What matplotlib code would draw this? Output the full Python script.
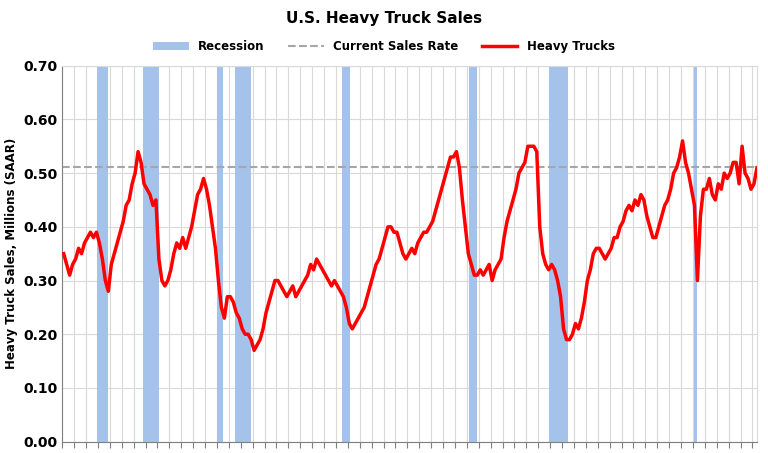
import matplotlib
matplotlib.use("Agg")
import matplotlib.pyplot as plt
import numpy as np

start_year = 1967
values = [
0.35,0.33,0.31,0.33, 0.34,0.36,0.35,0.37, 0.38,0.39,0.38,0.39, 0.37,0.34,0.30,0.28,
0.33,0.35,0.37,0.39, 0.41,0.44,0.45,0.48, 0.50,0.54,0.52,0.48, 0.47,0.46,0.44,0.45,
0.34,0.30,0.29,0.30, 0.32,0.35,0.37,0.36, 0.38,0.36,0.38,0.40, 0.43,0.46,0.47,0.49,
0.47,0.44,0.40,0.36, 0.30,0.25,0.23,0.27, 0.27,0.26,0.24,0.23, 0.21,0.20,0.20,0.19,
0.17,0.18,0.19,0.21, 0.24,0.26,0.28,0.30, 0.30,0.29,0.28,0.27, 0.28,0.29,0.27,0.28,
0.29,0.30,0.31,0.33, 0.32,0.34,0.33,0.32, 0.31,0.30,0.29,0.30, 0.29,0.28,0.27,0.25,
0.22,0.21,0.22,0.23, 0.24,0.25,0.27,0.29, 0.31,0.33,0.34,0.36, 0.38,0.40,0.40,0.39,
0.39,0.37,0.35,0.34, 0.35,0.36,0.35,0.37, 0.38,0.39,0.39,0.40, 0.41,0.43,0.45,0.47,
0.49,0.51,0.53,0.53, 0.54,0.51,0.45,0.40, 0.35,0.33,0.31,0.31, 0.32,0.31,0.32,0.33,
0.30,0.32,0.33,0.34, 0.38,0.41,0.43,0.45, 0.47,0.50,0.51,0.52, 0.55,0.55,0.55,0.54,
0.40,0.35,0.33,0.32, 0.33,0.32,0.30,0.27, 0.21,0.19,0.19,0.20, 0.22,0.21,0.23,0.26,
0.30,0.32,0.35,0.36, 0.36,0.35,0.34,0.35, 0.36,0.38,0.38,0.40, 0.41,0.43,0.44,0.43,
0.45,0.44,0.46,0.45, 0.42,0.40,0.38,0.38, 0.40,0.42,0.44,0.45, 0.47,0.50,0.51,0.53,
0.56,0.52,0.50,0.47, 0.44,0.30,0.42,0.47, 0.47,0.49,0.46,0.45, 0.48,0.47,0.50,0.49,
0.50,0.52,0.52,0.48, 0.55,0.50,0.49,0.47, 0.48,0.51]
recessions = [(1969.92,1970.83),(1973.83,1975.17),(1980.0,1980.5),(1981.5,1982.83),
              (1990.5,1991.17),(2001.17,2001.83),(2007.92,2009.5),(2020.08,2020.3)]
current_rate = 0.512
years = list(range(1967, 2026))

x = start_year + 0.125 + np.arange(len(values)) * 0.25

fig = plt.figure(figsize=(7.68, 4.53), dpi=100)
ax = fig.add_axes([0.081, 0.025, 0.905, 0.83])
for a, b in recessions:
    ax.axvspan(a, b, color="#a4c2ea", lw=0, zorder=1, label="Recession" if a == recessions[0][0] else None)
ax.axhline(current_rate, color="#a6a6a6", ls="--", lw=1.5, zorder=2, label="Current Sales Rate")
ax.plot(x, values, color="#ff0000", lw=2.5, zorder=3, label="Heavy Trucks")

ax.set_xlim(1967, 2025.4)
ax.set_ylim(0, 0.7)
ax.set_yticks(np.arange(0, 0.71, 0.1))
ax.set_yticklabels([f"{v:.2f}" for v in np.arange(0, 0.71, 0.1)], fontsize=10, fontweight="bold")
ax.set_xticks(years)
ax.set_xticklabels([str(y) for y in years], rotation=90, fontsize=8, fontweight="bold")
ax.grid(axis="both", color="#d9d9d9", lw=0.8, zorder=0)
ax.set_axisbelow(True)
for s in ["top", "right"]:
    ax.spines[s].set_color("#d9d9d9")
for s in ["left", "bottom"]:
    ax.spines[s].set_color("#7f7f7f")
ax.tick_params(axis="x", length=4, color="#7f7f7f")
ax.tick_params(axis="y", length=0)
ax.set_ylabel("Heavy Truck Sales, Millions (SAAR)", fontsize=8.5, fontweight="bold")
fig.suptitle("U.S. Heavy Truck Sales", y=0.975, fontsize=11, fontweight="bold")
fig.legend(loc="upper center", bbox_to_anchor=(0.5, 0.935), ncol=3, frameon=False,
           prop={"size": 8.5, "weight": "bold"}, handlelength=3, columnspacing=2)
fig.savefig("out.png", dpi=100)
